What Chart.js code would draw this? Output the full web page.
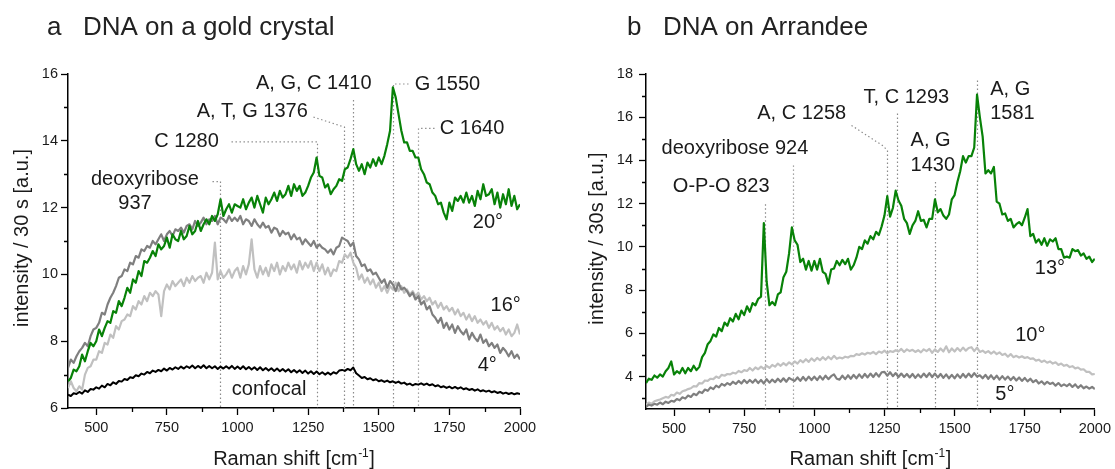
<!DOCTYPE html>
<html>
<head>
<meta charset="utf-8">
<title>Raman spectra of DNA</title>
<script src="https://cdn.jsdelivr.net/npm/chart.js@4.4.1/dist/chart.umd.min.js"></script>
<style>
  html, body { margin: 0; padding: 0; background: #fff; }
  #wrap { position: relative; width: 1115px; height: 469px; overflow: hidden; }
  .panel { position: absolute; top: 0; height: 469px; }
</style>
</head>
<body>
<div id="wrap">
  <div class="panel" style="left:0;width:557px"><canvas id="gold" width="557" height="469"></canvas></div>
  <div class="panel" style="left:557px;width:558px"><canvas id="arrandee" width="558" height="469"></canvas></div>
</div>
<script>
// Raman shift sampling grid [cm^-1]
const shift = [
  400,410,420,430,440,450,460,470,480,490,
  500,510,520,530,540,550,560,570,580,590,
  600,610,620,630,640,650,660,670,680,690,
  700,710,720,730,740,750,760,770,780,790,
  800,810,820,830,840,850,860,870,880,890,
  900,910,920,930,940,950,960,970,980,990,
  1000,1010,1020,1030,1040,1050,1060,1070,1080,1090,
  1100,1110,1120,1130,1140,1150,1160,1170,1180,1190,
  1200,1210,1220,1230,1240,1250,1260,1270,1280,1290,
  1300,1310,1320,1330,1340,1350,1360,1370,1380,1390,
  1400,1410,1420,1430,1440,1450,1460,1470,1480,1490,
  1500,1510,1520,1530,1540,1550,1560,1570,1580,1590,
  1600,1610,1620,1630,1640,1650,1660,1670,1680,1690,
  1700,1710,1720,1730,1740,1750,1760,1770,1780,1790,
  1800,1810,1820,1830,1840,1850,1860,1870,1880,1890,
  1900,1910,1920,1930,1940,1950,1960,1970,1980,1990,
  2000
];

// ---- panel a: DNA on a gold crystal, intensity / 30 s ----
const gold20 = [
  6.8,6.9,7.15,7.1,7.25,7.6,7.4,7.7,7.95,7.85,
  8.0,8.35,8.15,8.4,8.6,8.55,8.9,8.85,9.2,9.05,
  9.3,9.6,9.45,9.85,9.75,10.1,9.95,10.4,10.35,10.5,
  10.7,10.55,10.9,10.75,10.85,11.1,10.8,11.2,11.05,11.0,
  11.3,11.05,11.15,11.45,11.2,11.3,11.6,11.3,11.5,11.65,
  11.5,11.75,11.6,11.8,12.25,11.75,11.95,12.1,11.85,12.1,
  12.05,12.0,12.25,11.95,12.15,12.3,12.0,12.35,12.1,11.85,
  12.3,12.1,12.25,12.45,12.2,12.5,12.3,12.4,12.65,12.35,
  12.7,12.5,12.65,12.35,12.45,12.65,12.9,13.05,13.5,12.95,
  12.9,12.6,12.7,12.4,12.55,12.65,12.85,12.8,13.15,13.2,
  13.45,13.75,13.3,13.1,13.3,13.0,13.35,13.2,13.45,13.25,
  13.5,13.3,13.55,13.9,14.3,15.6,15.3,14.8,14.3,13.95,
  13.95,13.7,13.7,13.5,13.5,13.15,13.0,12.75,12.7,12.45,
  12.35,12.1,12.15,11.85,11.65,12.15,11.9,12.3,12.2,12.35,
  12.15,12.45,12.15,12.35,12.05,12.5,12.25,12.7,12.35,12.4,
  12.55,12.1,12.45,12.0,12.4,12.1,12.55,12.05,12.35,11.95,
  12.1
];
const gold16 = [
  6.6,6.8,6.6,6.5,6.65,6.55,7.0,7.2,7.25,7.45,
  7.45,7.7,7.65,7.95,7.9,8.2,8.1,8.45,8.35,8.6,
  8.65,8.8,8.75,9.05,8.95,9.2,9.1,9.35,9.2,9.45,
  9.35,9.5,9.4,8.75,9.5,9.7,9.55,9.8,9.65,9.75,
  9.85,9.65,9.9,9.75,9.95,9.8,9.9,9.95,9.75,10.05,
  9.85,10.05,10.95,9.85,10.1,9.9,10.0,10.15,9.9,10.1,
  10.2,9.9,10.25,10.0,10.3,11.05,10.15,9.9,10.25,10.0,
  10.2,9.95,10.3,10.1,10.35,10.0,10.25,10.1,10.35,10.15,
  10.3,10.05,10.4,10.15,10.35,10.2,10.4,10.1,10.35,10.1,
  10.3,10.0,10.2,9.95,10.15,10.1,10.4,10.35,10.6,10.5,
  10.65,10.35,10.2,9.85,10.0,9.75,9.9,9.7,9.85,9.6,
  9.75,9.5,9.65,9.45,9.65,9.55,9.75,9.5,9.65,9.45,
  9.55,9.4,9.5,9.35,9.45,9.25,9.35,9.2,9.3,9.1,
  9.2,9.0,9.15,8.95,9.05,8.9,9.0,8.8,8.95,8.75,
  8.85,8.65,8.8,8.6,8.75,8.55,8.65,8.5,8.6,8.4,
  8.55,8.35,8.45,8.3,8.4,8.2,8.35,8.15,8.25,8.5,
  8.2
];
const gold4 = [
  7.2,7.45,7.35,7.55,7.7,7.8,7.95,7.85,8.15,8.35,
  8.4,8.55,8.85,8.8,9.1,9.3,9.45,9.65,9.9,9.95,
  10.15,10.1,10.35,10.3,10.55,10.5,10.75,10.7,10.85,10.8,
  11.0,10.9,11.05,11.2,11.0,11.2,11.3,11.15,11.35,11.3,
  11.4,11.25,11.45,11.5,11.35,11.6,11.45,11.55,11.7,11.5,
  11.65,11.6,11.75,11.5,11.7,11.65,11.55,11.75,11.6,11.7,
  11.6,11.75,11.5,11.65,11.6,11.45,11.65,11.5,11.4,11.55,
  11.4,11.45,11.25,11.4,11.35,11.15,11.3,11.2,11.25,11.05,
  11.2,11.05,11.1,10.9,11.05,10.95,10.85,11.0,10.8,10.9,
  10.8,10.75,10.65,10.75,10.6,10.8,10.85,11.1,11.05,11.0,
  10.85,10.95,10.55,10.45,10.25,10.3,10.1,10.15,10.0,10.05,
  9.9,9.75,9.85,9.6,9.8,9.7,9.5,9.75,9.55,9.6,
  9.5,9.35,9.45,9.25,9.35,9.1,9.2,8.95,9.05,8.8,
  8.7,8.55,8.7,8.4,8.55,8.35,8.5,8.25,8.45,8.3,
  8.2,8.35,8.05,8.25,8.1,8.0,8.2,7.95,8.05,7.85,
  7.95,7.8,7.9,7.65,7.8,7.7,7.55,7.7,7.5,7.6,
  7.45
];
const goldConfocal = [
  6.4,6.36,6.44,6.42,6.48,6.43,6.53,6.48,6.57,6.55,
  6.62,6.58,6.67,6.62,6.72,6.68,6.77,6.72,6.81,6.79,
  6.87,6.84,6.92,6.9,6.98,6.95,7.03,7.0,7.08,7.04,
  7.12,7.08,7.14,7.1,7.18,7.12,7.2,7.15,7.22,7.17,
  7.24,7.18,7.25,7.2,7.27,7.19,7.26,7.2,7.28,7.19,
  7.26,7.19,7.25,7.17,7.24,7.18,7.25,7.18,7.26,7.17,
  7.24,7.17,7.25,7.16,7.23,7.15,7.22,7.14,7.22,7.13,
  7.2,7.12,7.19,7.11,7.18,7.1,7.17,7.09,7.16,7.07,
  7.14,7.06,7.13,7.05,7.12,7.03,7.1,7.02,7.09,7.01,
  7.07,7.0,7.06,7.0,7.07,7.03,7.12,7.14,7.11,7.17,
  7.13,7.21,7.04,6.97,6.9,6.93,6.86,6.89,6.83,6.86,
  6.8,6.83,6.78,6.82,6.77,6.8,6.75,6.79,6.73,6.76,
  6.7,6.73,6.68,6.72,6.7,6.74,6.69,6.73,6.68,6.71,
  6.65,6.68,6.62,6.65,6.6,6.64,6.59,6.63,6.58,6.62,
  6.56,6.59,6.54,6.57,6.52,6.56,6.5,6.53,6.49,6.52,
  6.47,6.5,6.45,6.48,6.43,6.46,6.42,6.45,6.41,6.44,
  6.42
];
const goldSeriesLabels = ['20°', '16°', '4°', 'confocal'];
const goldPeaks = [937, 1280, 1376, 1410, 1550, 1640];
const goldBands = ['deoxyribose', 'C', 'A, T, G', 'A, G, C', 'G', 'C'];
const goldYTicks = [6, 8, 10, 12, 14, 16];
const goldYMinor = [7, 9, 11, 13, 15];

// ---- panel b: DNA on Arrandee, intensity / 30s ----
const arr13 = [
  3.7,3.9,3.85,4.05,3.95,4.1,4.0,4.25,4.4,4.7,
  4.1,4.25,4.15,4.4,4.15,4.4,4.25,4.5,4.3,4.45,
  4.9,5.1,5.5,5.65,5.95,5.85,6.25,6.1,6.5,6.35,
  6.7,6.55,6.9,6.65,7.05,6.85,7.25,7.0,7.4,7.3,
  7.6,7.7,11.1,8.4,7.3,7.45,7.3,7.8,7.9,8.6,
  8.85,9.7,10.9,10.3,10.1,9.3,9.45,8.95,9.35,8.9,
  9.35,8.95,9.45,8.85,8.75,8.3,8.95,9.0,9.35,9.15,
  9.4,9.2,9.45,8.95,9.15,9.5,10.0,9.9,10.3,10.15,
  10.5,10.35,10.7,10.55,10.95,11.45,12.35,11.4,11.8,12.6,
  12.15,11.9,11.3,11.1,10.6,11.0,11.2,11.65,11.2,11.25,
  10.9,11.3,11.3,12.2,11.6,11.75,11.45,11.3,11.5,12.2,
  12.4,13.0,13.5,14.2,13.9,14.2,14.2,14.6,17.05,16.0,
  15.1,13.4,13.55,13.4,13.7,12.1,12.0,11.5,11.55,11.2,
  11.3,10.9,11.05,11.15,11.0,11.35,11.75,10.5,10.6,10.2,
  10.35,10.1,10.4,10.05,10.35,10.25,10.4,9.9,9.9,9.5,
  9.55,9.5,9.9,9.8,9.85,9.6,9.7,9.45,9.55,9.3,
  9.45
];
const arr10 = [
  2.68,2.8,2.74,2.86,2.9,2.94,3.0,3.06,3.02,3.16,
  3.12,3.26,3.2,3.32,3.36,3.42,3.46,3.56,3.54,3.7,
  3.68,3.82,3.8,3.9,3.88,4.0,3.94,4.08,4.04,4.12,
  4.1,4.18,4.14,4.26,4.2,4.3,4.26,4.4,4.28,4.42,
  4.34,4.46,4.36,4.5,4.4,4.54,4.46,4.6,4.5,4.62,
  4.52,4.66,4.56,4.7,4.6,4.76,4.66,4.8,4.68,4.84,
  4.72,4.86,4.76,4.9,4.78,4.92,4.8,4.96,4.82,4.88,
  4.84,4.92,4.88,4.96,4.94,5.04,5.0,5.08,5.02,5.1,
  5.06,5.14,5.04,5.16,5.1,5.2,5.08,5.18,5.14,5.22,
  5.16,5.28,5.14,5.26,5.18,5.24,5.14,5.22,5.12,5.26,
  5.18,5.28,5.1,5.26,5.14,5.3,5.16,5.4,5.12,5.3,
  5.16,5.32,5.18,5.34,5.2,5.32,5.36,5.18,5.34,5.14,
  5.2,5.1,5.18,5.06,5.16,5.04,5.12,5.0,5.06,4.92,
  5.04,4.9,4.96,4.88,4.94,4.86,4.9,4.82,4.84,4.74,
  4.78,4.68,4.74,4.64,4.7,4.6,4.66,4.54,4.6,4.5,
  4.54,4.44,4.48,4.38,4.42,4.32,4.34,4.22,4.22,4.1,
  4.12
];
const arr5 = [
  2.6,2.7,2.66,2.74,2.7,2.8,2.72,2.84,2.78,2.88,
  2.84,2.96,2.9,3.04,2.98,3.12,3.06,3.2,3.14,3.3,
  3.24,3.4,3.34,3.5,3.42,3.58,3.5,3.66,3.58,3.7,
  3.62,3.76,3.66,3.8,3.68,3.84,3.7,3.84,3.72,3.86,
  3.7,3.84,3.68,3.88,3.72,3.86,3.74,3.9,3.76,3.92,
  3.76,3.94,3.86,3.8,3.96,3.8,3.98,3.82,4.0,3.84,
  4.0,3.84,4.02,3.86,4.04,3.88,4.02,4.1,3.9,3.86,
  4.04,3.88,4.06,3.9,4.08,3.92,4.1,3.94,4.12,3.96,
  4.14,3.98,4.16,4.0,4.2,4.22,4.04,4.2,4.02,4.16,
  3.98,4.14,3.98,4.12,3.96,4.12,3.94,4.1,3.96,4.14,
  3.98,4.16,3.98,4.14,3.96,4.12,3.94,4.1,3.92,4.08,
  3.92,4.1,3.94,4.12,3.96,4.14,3.98,4.16,4.0,4.06,
  3.92,4.08,3.9,4.06,3.88,4.04,3.86,4.02,3.86,4.0,
  3.84,3.98,3.82,3.96,3.8,3.94,3.78,3.9,3.74,3.84,
  3.68,3.78,3.64,3.76,3.66,3.72,3.58,3.7,3.56,3.64,
  3.56,3.66,3.52,3.64,3.48,3.6,3.46,3.54,3.44,3.52,
  3.42
];
const arrSeriesLabels = ['13°', '10°', '5°'];
const arrPeaks = [823, 924, 1258, 1293, 1430, 1581];
const arrBands = ['O-P-O', 'deoxyribose', 'A, C', 'T, C', 'A, G', 'A, G'];
const arrYTicks = [4, 6, 8, 10, 12, 14, 16, 18];
const arrYMinor = [3, 5, 7, 9, 11, 13, 15, 17];

const xTicks = [500, 750, 1000, 1250, 1500, 1750, 2000];
const xMinor = [625, 875, 1125, 1375, 1625, 1875];

const FONT = '"Liberation Sans", Arial, Helvetica, sans-serif';
const INK = '#1a1a1a';

// Dotted band markers, band labels, angle labels, minor ticks and titles
const spectrumDecor = {
  id: 'spectrumDecor',
  beforeDatasetsDraw(chart, args, o) {
    const { ctx } = chart, xs = chart.scales.x, ys = chart.scales.y;
    ctx.save();
    ctx.strokeStyle = '#8a8a8a';
    ctx.lineWidth = 1.2;
    ctx.setLineDash([1.4, 2.6]);
    o.peaks.forEach((wn, i) => {
      const lay = o.peakLayout[i];
      const pts = (lay.leader || []).concat([[wn, lay.top], [wn, ys.min]]);
      ctx.beginPath();
      pts.forEach(([vx, vy], k) => {
        const px = Math.round(xs.getPixelForValue(vx)) + 0.5;
        const py = ys.getPixelForValue(vy);
        if (k) ctx.lineTo(px, py); else ctx.moveTo(px, py);
      });
      ctx.stroke();
    });
    ctx.restore();
  },
  afterDraw(chart, args, o) {
    const { ctx, chartArea: ca } = chart, xs = chart.scales.x, ys = chart.scales.y;
    ctx.save();

    // minor ticks
    ctx.strokeStyle = '#000';
    ctx.lineWidth = 1.3;
    ctx.beginPath();
    o.xMinor.forEach(v => {
      const px = Math.round(xs.getPixelForValue(v)) + 0.5;
      ctx.moveTo(px, ca.bottom); ctx.lineTo(px, ca.bottom + 4);
    });
    o.yMinor.forEach(v => {
      const py = Math.round(ys.getPixelForValue(v)) + 0.5;
      ctx.moveTo(ca.left, py); ctx.lineTo(ca.left - 4, py);
    });
    ctx.stroke();

    // band labels
    ctx.fillStyle = INK;
    ctx.font = `20px ${FONT}`;
    ctx.textBaseline = 'middle';
    o.peaks.forEach((wn, i) => {
      const lay = o.peakLayout[i];
      const lines = lay.split ? [o.bands[i], String(wn)] : [o.bands[i] + ' ' + wn];
      lay.anchors.forEach(([vx, vy, align], k) => {
        ctx.textAlign = align;
        ctx.fillText(lines[k], xs.getPixelForValue(vx), ys.getPixelForValue(vy));
      });
    });

    // series (angle) labels
    ctx.textAlign = 'left';
    o.seriesLabels.forEach((t, i) => {
      const [vx, vy] = o.seriesLabelAt[i];
      ctx.fillText(t, xs.getPixelForValue(vx), ys.getPixelForValue(vy));
    });

    // y axis title
    ctx.save();
    ctx.translate(o.yTitleX, (ca.top + ca.bottom) / 2 - 3);
    ctx.rotate(-Math.PI / 2);
    ctx.textAlign = 'center';
    ctx.fillText(o.yTitle, 0, 0);
    ctx.restore();

    // x axis title with superscript
    ctx.textBaseline = 'alphabetic';
    ctx.textAlign = 'left';
    const head = 'Raman shift [cm', sup = '-1', tail = ']';
    ctx.font = `20px ${FONT}`;
    const wh = ctx.measureText(head).width, wt = ctx.measureText(tail).width;
    ctx.font = `12px ${FONT}`;
    const wsup = ctx.measureText(sup).width;
    const sx = (ca.left + ca.right) / 2 - (wh + wsup + wt + 1) / 2;
    const base = 465;
    ctx.font = `20px ${FONT}`;
    ctx.fillText(head, sx, base);
    ctx.font = `12px ${FONT}`;
    ctx.fillText(sup, sx + wh + 0.5, base - 8);
    ctx.font = `20px ${FONT}`;
    ctx.fillText(tail, sx + wh + wsup + 1, base);

    // panel title
    ctx.fillStyle = '#222';
    ctx.font = `26px ${FONT}`;
    ctx.fillText(o.letter, o.letterX, 35);
    ctx.fillText(o.title, o.titleX, 35);

    ctx.restore();
  }
};

function makeChart(id, cfg) {
  const datasets = cfg.series.map(s => ({
    data: shift.map((v, i) => ({ x: v, y: s.values[i] })),
    borderColor: s.color,
    borderWidth: s.width,
    order: s.order,
    pointRadius: 0,
    tension: 0,
    fill: false,
    borderJoinStyle: 'round'
  }));
  const tickFont = { family: FONT, size: 14.5 };
  return new Chart(document.getElementById(id), {
    type: 'line',
    data: { datasets },
    options: {
      responsive: false,
      animation: false,
      devicePixelRatio: 1,
      layout: { padding: cfg.padding },
      plugins: {
        legend: { display: false },
        tooltip: { enabled: false },
        spectrumDecor: cfg.decor
      },
      scales: {
        x: {
          type: 'linear',
          min: 400, max: 2000,
          afterBuildTicks: s => { s.ticks = xTicks.map(v => ({ value: v })); },
          afterFit: s => { s.height = cfg.xAxisHeight; },
          ticks: { font: tickFont, color: INK, padding: 4, maxRotation: 0, autoSkip: false, callback: v => String(v) },
          grid: { drawOnChartArea: false, drawTicks: true, tickLength: 7, tickColor: '#000', tickWidth: 1.3 },
          border: { display: true, color: '#000', width: 1.5 }
        },
        y: {
          type: 'linear',
          min: cfg.yMin, max: cfg.yMax,
          afterBuildTicks: s => { s.ticks = cfg.yTicks.map(v => ({ value: v })); },
          afterFit: s => { s.width = cfg.yAxisWidth; },
          ticks: { font: tickFont, color: INK, padding: cfg.yTickPad, autoSkip: false, callback: v => String(v) },
          grid: { drawOnChartArea: false, drawTicks: true, tickLength: 7, tickColor: '#000', tickWidth: 1.3 },
          border: { display: true, color: '#000', width: 1.5 }
        }
      }
    },
    plugins: [spectrumDecor]
  });
}

const GREEN = '#088208', DARK = '#7f7f7f', LIGHT = '#c0c0c0';

makeChart('gold', {
  padding: { top: 74, right: 37, bottom: 0, left: 0 },
  xAxisHeight: 61, yAxisWidth: 68, yTickPad: 3,
  yMin: 6, yMax: 16, yTicks: goldYTicks,
  series: [
    { values: gold20, color: GREEN, width: 2.2, order: 1 },
    { values: gold4, color: DARK, width: 2.2, order: 2 },
    { values: gold16, color: LIGHT, width: 2.2, order: 3 },
    { values: goldConfocal, color: '#000', width: 2, order: 0 }
  ],
  decor: {
    peaks: goldPeaks, bands: goldBands,
    peakLayout: [
      { top: 12.78, leader: [[909, 12.78]], split: true, anchors: [[863, 12.84, 'right'], [637, 12.11, 'center']] },
      { top: 13.97, leader: [[977, 13.97]], anchors: [[934, 13.99, 'right']] },
      { top: 14.41, leader: [[1267, 14.71]], anchors: [[1249, 14.87, 'right']] },
      { top: 15.22, anchors: [[1270, 15.72, 'center']] },
      { top: 15.7, leader: [[1603, 15.7]], anchors: [[1627, 15.7, 'left']] },
      { top: 14.37, leader: [[1695, 14.37]], anchors: [[1716, 14.37, 'left']] }
    ],
    seriesLabels: goldSeriesLabels,
    seriesLabelAt: [[1833, 11.54], [1896, 9.08], [1850, 7.26], [980, 6.54]],
    xMinor: xMinor, yMinor: goldYMinor,
    yTitle: 'intensity / 30 s [a.u.]', yTitleX: 22,
    letter: 'a', letterX: 47, title: 'DNA on a gold crystal', titleX: 83
  }
});

makeChart('arrandee', {
  padding: { top: 74, right: 18, bottom: 0, left: 0 },
  xAxisHeight: 60, yAxisWidth: 89, yTickPad: 6,
  yMin: 2.5, yMax: 18, yTicks: arrYTicks,
  series: [
    { values: arr13, color: GREEN, width: 2.2, order: 1 },
    { values: arr5, color: DARK, width: 2.2, order: 2 },
    { values: arr10, color: LIGHT, width: 2.2, order: 3 }
  ],
  decor: {
    peaks: arrPeaks, bands: arrBands,
    peakLayout: [
      { top: 11.97, anchors: [[668, 12.8, 'center']] },
      { top: 13.77, anchors: [[717, 14.56, 'center']] },
      { top: 14.46, leader: [[1131, 15.62], [1240, 14.69]], anchors: [[955, 16.17, 'center']] },
      { top: 16.17, anchors: [[1328, 16.93, 'center']] },
      { top: 13.0, split: true, anchors: [[1343, 14.92, 'left'], [1343, 13.77, 'left']] },
      { top: 17.7, split: true, anchors: [[1627, 17.27, 'left'], [1627, 16.16, 'left']] }
    ],
    seriesLabels: arrSeriesLabels,
    seriesLabelAt: [[1786, 9.01], [1716, 5.92], [1645, 3.15]],
    xMinor: xMinor, yMinor: arrYMinor,
    yTitle: 'intensity / 30s [a.u.]', yTitleX: 40,
    letter: 'b', letterX: 70, title: 'DNA on Arrandee', titleX: 106
  }
});
</script>
</body>
</html>
